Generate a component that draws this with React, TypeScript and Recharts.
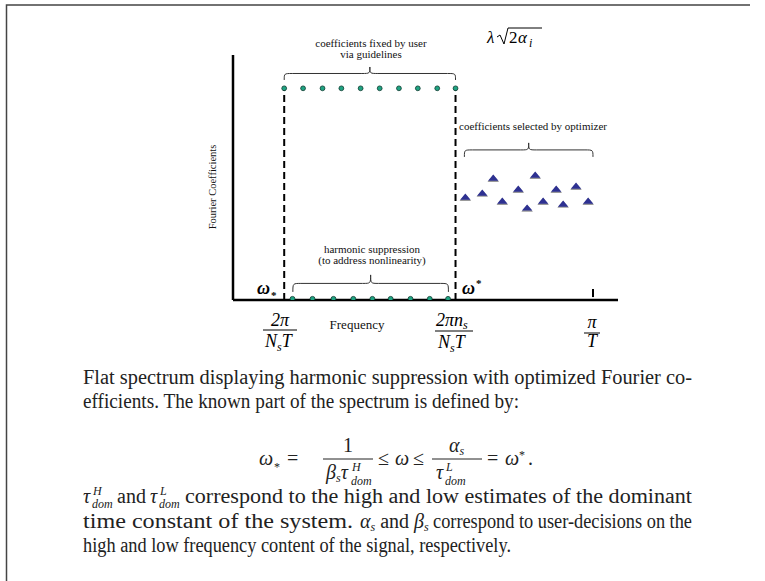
import React from 'react';
import { ComposedChart, Scatter, XAxis, YAxis, ReferenceLine } from 'recharts';

// Frequency positions (axis units) and coefficient amplitudes
const fixedFreq = [2.66, 3.64, 4.65, 5.63, 6.63, 7.62, 8.62, 9.6, 10.61, 11.56];
const fixedAmp = [8.64, 8.64, 8.64, 8.64, 8.64, 8.64, 8.64, 8.64, 8.64, 8.64];
const suppressedFreq = [3.09, 4.13, 5.22, 6.25, 7.24, 8.19, 9.22, 10.22, 11.17];
const suppressedAmp = [0.05, 0.05, 0.05, 0.05, 0.05, 0.05, 0.05, 0.05, 0.05];
const optimFreq = [12.07, 12.95, 13.52, 13.99, 14.82, 15.28, 15.7, 16.11, 16.79, 17.15, 17.82, 18.45];
const optimAmp = [4.2, 4.37, 4.98, 4.04, 4.53, 3.76, 5.1, 4.04, 4.53, 3.92, 4.65, 4.04];

const omegaLow = 2.66;
const omegaHigh = 11.56;
const piOverT = 18.7;
const fixedLevel = 8.64;
const xDomain = [0, 20];
const yDomain = [0, 10];

const fixedData = fixedFreq.map((f, i) => ({ f, a: fixedAmp[i] }));
const suppressedData = suppressedFreq.map((f, i) => ({ f, a: suppressedAmp[i] }));
const optimData = optimFreq.map((f, i) => ({ f, a: optimAmp[i] }));

const GreenDot = (p: any) => (
  <circle cx={p.cx} cy={p.cy} r={2.4} fill="#1fa382" stroke="#0d3b30" strokeWidth={0.8} />
);

const Tri = (p: any) => {
  const { cx, cy } = p;
  return (
    <g>
      <polygon points={`${cx - 5.8},${cy + 3.9} ${cx + 5.8},${cy + 3.9} ${cx},${cy - 3.2}`} fill="#9a9a9a" />
      <polygon points={`${cx - 5.2},${cy + 2.7} ${cx + 5.2},${cy + 2.7} ${cx},${cy - 3.5}`} fill="#2e3192" />
    </g>
  );
};

const makeBrace = (h: number) => (p: any) => {
  const { x1, y1, x2 } = p;
  const xm = (x1 + x2) / 2;
  const mid = y1 - h / 2;
  const top = y1 - h;
  const r = 8;
  const d = `M ${x1} ${y1} C ${x1} ${mid}, ${x1} ${mid}, ${x1 + r} ${mid} L ${xm - r} ${mid} C ${xm} ${mid}, ${xm} ${mid}, ${xm} ${top} C ${xm} ${mid}, ${xm} ${mid}, ${xm + r} ${mid} L ${x2 - r} ${mid} C ${x2} ${mid}, ${x2} ${mid}, ${x2} ${y1}`;
  return <path d={d} fill="none" stroke="#333" strokeWidth={1} />;
};

const serif = '"Liberation Serif", "Times New Roman", serif';
const SG = 'spacingAndGlyphs';

const Frac = ({ x, w, bar, num, den, size = 18 }: any) => (
  <g fontFamily={serif} fontSize={size}>
    <line x1={x} x2={x + w} y1={bar} y2={bar} stroke="#000" strokeWidth={1} />
    {num}
    {den}
  </g>
);

const Overlay = () => (
  <svg width={765} height={581} style={{ position: 'absolute', left: 0, top: 0, pointerEvents: 'none' }}>
    {/* frame */}
    <path d="M 6.5 581 V 5 H 750" fill="none" stroke="#444" strokeWidth={1.5} />
    {/* chart annotations */}
    <g fontFamily={serif} fontSize={11} fill="#111">
      <text x={371} y={47} textAnchor="middle">coefficients fixed by user</text>
      <text x={371} y={58} textAnchor="middle">via guidelines</text>
      <text x={459} y={130}>coefficients selected by optimizer</text>
      <text x={372} y={253} textAnchor="middle">harmonic suppression</text>
      <text x={372} y={264} textAnchor="middle">(to address nonlinearity)</text>
      <text x={216} y={187} textAnchor="middle" fontSize={10.5} transform="rotate(-90 216 187)">Fourier Coefficients</text>
      <text x={357} y={329} textAnchor="middle" fontSize={13}>Frequency</text>
    </g>
    {/* lambda sqrt(2 alpha_i) */}
    <g fontFamily={serif} fill="#000">
      <text x={487} y={43} fontSize={17} fontStyle="italic">λ</text>
      <path d="M 497 37 L 500 35 L 504 44 L 508 28 L 542 28" fill="none" stroke="#000" strokeWidth={1} />
      <text x={509} y={43} fontSize={17}>2</text>
      <text x={518} y={43} fontSize={17} fontStyle="italic">α</text>
      <text x={529} y={47} fontSize={12} fontStyle="italic">i</text>
    </g>
    {/* omega labels */}
    <g fontFamily={serif} fill="#000" fontWeight="bold">
      <text x={257} y={294} fontSize={18} fontStyle="italic">ω</text>
      <text x={271} y={299} fontSize={11}>*</text>
      <text x={462} y={294} fontSize={18} fontStyle="italic">ω</text>
      <text x={476} y={287} fontSize={11}>*</text>
    </g>
    {/* fractions under axis */}
    <Frac x={263} w={34} bar={330}
      num={<text x={280} y={326} textAnchor="middle" fontStyle="italic">2π</text>}
      den={<text x={265} y={347}><tspan fontStyle="italic">N</tspan><tspan fontSize={12} dy={4} fontStyle="italic">s</tspan><tspan dy={-4} fontStyle="italic">T</tspan></text>} />
    <Frac x={435} w={38} bar={331}
      num={<text x={436} y={326}><tspan fontStyle="italic">2πn</tspan><tspan fontSize={12} dy={3} fontStyle="italic">s</tspan></text>}
      den={<text x={438} y={348}><tspan fontStyle="italic">N</tspan><tspan fontSize={12} dy={4} fontStyle="italic">s</tspan><tspan dy={-4} fontStyle="italic">T</tspan></text>} />
    <Frac x={584} w={16} bar={333}
      num={<text x={592} y={328} textAnchor="middle" fontStyle="italic">π</text>}
      den={<text x={592} y={347} textAnchor="middle" fontStyle="italic">T</text>} />
    {/* caption */}
    <g fontFamily={serif} fontSize={20} fill="#222">
      <text x={83} y={384} textLength={609} lengthAdjust={SG}>Flat spectrum displaying harmonic suppression with optimized Fourier co-</text>
      <text x={83} y={408} textLength={436} lengthAdjust={SG}>efficients. The known part of the spectrum is defined by:</text>
      {/* equation */}
      <text x={259} y={465} fontStyle="italic">ω</text>
      <text x={274} y={471} fontSize={12}>*</text>
      <text x={287} y={465}>=</text>
      <line x1={323} x2={373} y1={459} y2={459} stroke="#222" strokeWidth={1} />
      <text x={348} y={452} textAnchor="middle">1</text>
      <text x={326} y={479}><tspan fontStyle="italic">β</tspan><tspan fontSize={12} dy={3} fontStyle="italic">s</tspan><tspan dy={-3} fontStyle="italic">τ</tspan></text>
      <text x={352} y={471} fontSize={12} fontStyle="italic">H</text>
      <text x={351} y={485} fontSize={12} fontStyle="italic">dom</text>
      <text x={378} y={465}>≤</text>
      <text x={395} y={465} fontStyle="italic">ω</text>
      <text x={413} y={465}>≤</text>
      <line x1={432} x2={482} y1={459} y2={459} stroke="#222" strokeWidth={1} />
      <text x={449} y={452}><tspan fontStyle="italic">α</tspan><tspan fontSize={12} dy={3} fontStyle="italic">s</tspan></text>
      <text x={436} y={479} fontStyle="italic">τ</text>
      <text x={446} y={471} fontSize={12} fontStyle="italic">L</text>
      <text x={445} y={485} fontSize={12} fontStyle="italic">dom</text>
      <text x={487} y={465}>=</text>
      <text x={505} y={465} fontStyle="italic">ω</text>
      <text x={519} y={459} fontSize={12}>*</text>
      <text x={528} y={465}>.</text>
      {/* paragraph */}
      <text x={83} y={503} fontStyle="italic">τ</text>
      <text x={93} y={495} fontSize={12} fontStyle="italic">H</text>
      <text x={92} y={508} fontSize={12} fontStyle="italic">dom</text>
      <text x={117} y={503}>and</text>
      <text x={150} y={503} fontStyle="italic">τ</text>
      <text x={160} y={495} fontSize={12} fontStyle="italic">L</text>
      <text x={159} y={508} fontSize={12} fontStyle="italic">dom</text>
      <text x={185} y={503} textLength={507} lengthAdjust={SG}>correspond to the high and low estimates of the dominant</text>
      <text x={83} y={528} textLength={270} lengthAdjust={SG}>time constant of the system.</text>
      <text x={360} y={528}><tspan fontStyle="italic">α</tspan><tspan fontSize={12} dy={3} fontStyle="italic">s</tspan><tspan dy={-3}> and </tspan><tspan fontStyle="italic">β</tspan><tspan fontSize={12} dy={3} fontStyle="italic">s</tspan></text>
      <text x={433} y={528} textLength={259} lengthAdjust={SG}>correspond to user-decisions on the</text>
      <text x={83} y={552} textLength={428} lengthAdjust={SG}>high and low frequency content of the signal, respectively.</text>
    </g>
  </svg>
);

export default function App() {
  return (
    <div style={{ position: 'absolute', left: 0, top: 0, width: 765, height: 581, background: '#fff' }}>
      <ComposedChart width={765} height={581} margin={{ top: 55, left: 233, right: 147, bottom: 281 }}>
        <XAxis type="number" dataKey="f" domain={xDomain} allowDataOverflow hide />
        <YAxis type="number" dataKey="a" domain={yDomain} allowDataOverflow hide />
        <ReferenceLine segment={[{ x: 0, y: 0 }, { x: 20, y: 0 }]} stroke="#000" strokeWidth={2.5} ifOverflow="visible" />
        <ReferenceLine segment={[{ x: 0, y: 0 }, { x: 0, y: 10 }]} stroke="#000" strokeWidth={2.5} ifOverflow="visible" />
        <ReferenceLine segment={[{ x: omegaLow, y: 0 }, { x: omegaLow, y: fixedLevel }]} stroke="#000" strokeWidth={2} strokeDasharray="7 4" ifOverflow="visible" />
        <ReferenceLine segment={[{ x: omegaHigh, y: 0 }, { x: omegaHigh, y: fixedLevel }]} stroke="#000" strokeWidth={2} strokeDasharray="7 4" ifOverflow="visible" />
        <ReferenceLine segment={[{ x: piOverT, y: 0.12 }, { x: piOverT, y: 0.45 }]} stroke="#000" strokeWidth={2} ifOverflow="visible" />
        <ReferenceLine segment={[{ x: omegaLow, y: 8.98 }, { x: omegaHigh, y: 8.98 }]} ifOverflow="visible" shape={makeBrace(13)} />
        <ReferenceLine segment={[{ x: 12.02, y: 5.84 }, { x: piOverT, y: 5.84 }]} ifOverflow="visible" shape={makeBrace(14)} />
        <ReferenceLine segment={[{ x: 3.11, y: 0.33 }, { x: 11.19, y: 0.33 }]} ifOverflow="visible" shape={makeBrace(17)} />
        <Scatter data={fixedData} shape={GreenDot} isAnimationActive={false} />
        <Scatter data={suppressedData} shape={GreenDot} isAnimationActive={false} />
        <Scatter data={optimData} shape={Tri} isAnimationActive={false} />
      </ComposedChart>
      <Overlay />
    </div>
  );
}
